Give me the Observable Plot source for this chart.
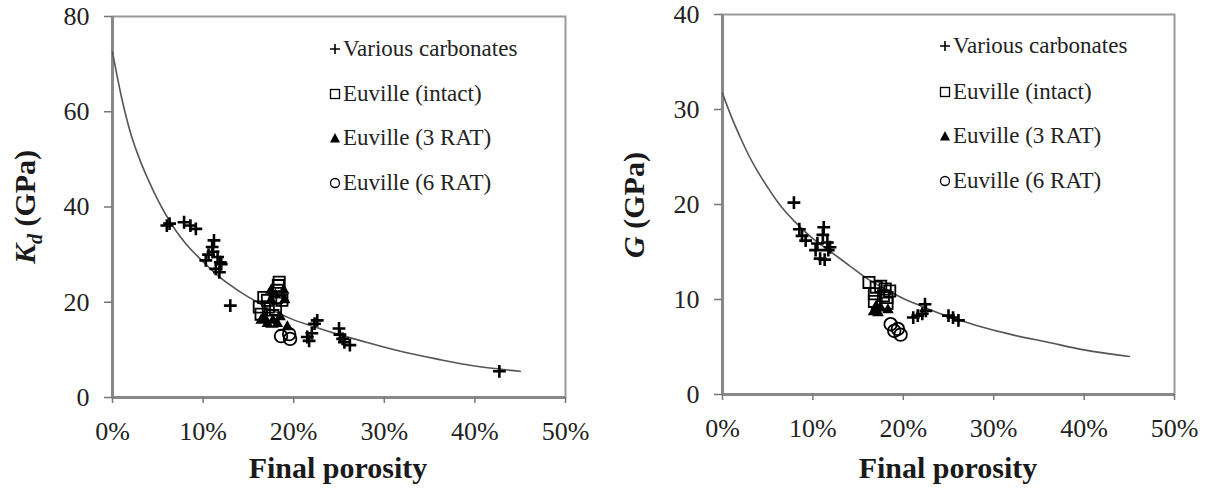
<!DOCTYPE html>
<html>
<head>
<meta charset="utf-8">
<script src="https://cdn.jsdelivr.net/npm/d3@7"></script>
<script src="https://cdn.jsdelivr.net/npm/@observablehq/plot@0.6"></script>
<style>
  body { margin: 0; background: #fff; }
  #wrap { position: relative; width: 1214px; height: 495px; background: #fff; overflow: hidden;
          font-family: "Liberation Serif", "DejaVu Serif", "Noto Serif", Tinos, serif; color: #222; }
  .panel { position: absolute; top: 0; }
  .title { position: absolute; font-weight: bold; font-size: 30px; line-height: 1; white-space: nowrap; color: #1a1a1a; }
  .ytitle { transform: translate(-50%, -50%) rotate(-90deg); }
  .xtitle { transform: translate(-50%, -50%); }
  .leg { position: absolute; font-size: 23px; line-height: 1; white-space: nowrap; color: #222; }
</style>
</head>
<body>
<div id="wrap"></div>
<script>
// ---------- Data (porosity in %, moduli in GPa) ----------
const xTicks = [0, 10, 20, 30, 40, 50];
const kdTicks = [0, 20, 40, 60, 80];
const gTicks = [0, 10, 20, 30, 40];
const seriesNames = ["Various carbonates", "Euville (intact)", "Euville (3 RAT)", "Euville (6 RAT)"];

// Left panel: Kd
const kdCurveP = [0, 1, 2, 3, 4, 5, 6, 7, 8, 10, 12, 14, 16, 18, 20, 22, 25, 28, 32, 36, 40, 45];
const kdCurveV = [72.5, 63, 55.5, 50, 45.5, 41.5, 38, 35, 32.5, 28.5, 25, 22.3, 20, 18, 16.3, 15, 13.2, 11.6, 9.6, 8, 6.6, 5.5];
const kdCarbP = [6.0, 6.3, 7.9, 8.6, 9.2, 10.3, 10.6, 11.0, 11.2, 11.1, 11.6, 11.9, 11.4, 11.8, 12.0, 13.0, 21.5, 21.7, 22.0, 22.3, 22.6, 25.0, 25.1, 25.4, 25.6, 26.2, 42.7];
const kdCarbV = [36.1, 36.5, 36.8, 36.1, 35.4, 28.8, 30.0, 31.6, 33.0, 30.6, 29.5, 28.4, 27.0, 26.3, 28.0, 19.3, 12.7, 11.9, 13.5, 15.5, 16.2, 14.5, 13.2, 12.3, 11.6, 11.0, 5.5];
const kdIntactP = [16.2, 16.4, 16.7, 17.1, 17.2, 17.7, 18.0, 18.1, 18.2, 18.4, 18.7, 17.6, 18.3];
const kdIntactV = [19.0, 17.5, 21.0, 20.4, 19.0, 17.2, 18.5, 21.0, 22.5, 24.2, 20.4, 16.0, 23.5];
const kd3P = [16.4, 16.7, 17.1, 17.5, 17.7, 17.5, 18.0, 18.5, 18.9, 19.0, 19.3, 18.2];
const kd3V = [16.2, 16.9, 15.5, 20.5, 16.2, 22.5, 21.5, 16.9, 22.5, 20.5, 14.8, 15.5];
const kd6P = [18.6, 19.5, 19.6];
const kd6V = [12.9, 13.3, 12.3];

// Right panel: G
const gCurveP = [0, 1, 2, 3, 4, 5, 6, 7, 8, 10, 12, 14, 16, 18, 20, 22, 25, 28, 32, 36, 40, 45];
const gCurveV = [31.7, 29.2, 27, 25, 23.3, 21.8, 20.4, 19.2, 18.2, 16.4, 15, 13.6, 12.2, 11.1, 10.1, 9.3, 8.2, 7.3, 6.3, 5.5, 4.7, 4.0];
const gCarbP = [7.9, 8.5, 8.8, 9.2, 10.3, 10.5, 10.8, 11.1, 11.2, 11.3, 11.6, 11.7, 11.9, 21.1, 21.6, 22.1, 22.4, 22.5, 25.0, 25.5, 26.1];
const gCarbV = [20.2, 17.4, 16.7, 16.2, 15.2, 15.9, 14.3, 16.8, 17.6, 14.2, 16.0, 15.2, 15.5, 8.1, 8.3, 8.5, 9.5, 8.8, 8.3, 8.1, 7.8];
const gIntactP = [16.2, 17.0, 18.0, 18.5, 16.8, 18.2, 16.8, 18.2, 17.5, 17.8];
const gIntactV = [11.8, 11.3, 11.1, 10.9, 10.6, 10.2, 9.8, 9.6, 11.4, 10.4];
const g3P = [16.7, 17.2, 18.3, 17.5, 17.0];
const g3V = [8.7, 8.6, 8.9, 9.1, 9.3];
const g6P = [18.6, 19.0, 19.4, 19.7];
const g6V = [7.4, 6.7, 6.9, 6.3];

// ---------- helpers ----------
const FONT = "'Liberation Serif', 'DejaVu Serif', 'Noto Serif', Tinos, serif";
const zip = (xs, ys) => xs.map((x, i) => ({x, y: ys[i]}));

function panel(o) {
  return Plot.plot({
    width: 607, height: 495,
    marginLeft: o.ml, marginRight: o.mr, marginTop: o.mt, marginBottom: o.mb,
    style: {fontFamily: FONT, fontSize: "26px", color: "#222", background: "transparent", overflow: "visible"},
    x: {domain: [0, 50]},
    y: {domain: [0, o.yMax]},
    marks: [
      Plot.frame({stroke: "#9a9a9a", strokeWidth: 2}),
      Plot.ruleX([0], {stroke: "#888", strokeWidth: 3}),
      Plot.ruleY([0], {stroke: "#888", strokeWidth: 3}),
      Plot.axisX({ticks: xTicks, tickFormat: d => d + "%", tickSize: 6, tickPadding: 18, label: null, stroke: "#777", strokeWidth: 1.5, fontFamily: FONT}),
      Plot.axisY({ticks: o.yTicks, tickSize: 8, tickPadding: 15, label: null, stroke: "#777", strokeWidth: 1.5, fontFamily: FONT}),
      Plot.line(zip(o.curveP, o.curveV), {x: "x", y: "y", stroke: "#555", strokeWidth: 1.6, curve: "monotone-x"}),
      Plot.dot(zip(o.carbP, o.carbV), {x: "x", y: "y", symbol: "plus", r: 4.2, stroke: "#000", strokeWidth: 2.6}),
      Plot.dot(zip(o.intP, o.intV), {x: "x", y: "y", symbol: "square", r: 6.3, stroke: "#000", strokeWidth: 1.8, fill: "none"}),
      Plot.dot(zip(o.r3P, o.r3V), {x: "x", y: "y", symbol: "triangle", r: 4.3, fill: "#000", stroke: "none"}),
      Plot.dot(zip(o.r6P, o.r6V), {x: "x", y: "y", symbol: "circle", r: 6.3, stroke: "#000", strokeWidth: 1.8, fill: "none"})
    ]
  });
}

const wrap = document.getElementById("wrap");

function addPanel(left, plot) {
  const d = document.createElement("div");
  d.className = "panel";
  d.style.left = left + "px";
  d.appendChild(plot);
  wrap.appendChild(d);
}

addPanel(0, panel({ml: 112, mr: 42, mt: 16, mb: 98, yMax: 80, yTicks: kdTicks,
  curveP: kdCurveP, curveV: kdCurveV, carbP: kdCarbP, carbV: kdCarbV,
  intP: kdIntactP, intV: kdIntactV, r3P: kd3P, r3V: kd3V, r6P: kd6P, r6V: kd6V}));
addPanel(607, panel({ml: 115, mr: 40, mt: 14, mb: 101, yMax: 40, yTicks: gTicks,
  curveP: gCurveP, curveV: gCurveV, carbP: gCarbP, carbV: gCarbV,
  intP: gIntactP, intV: gIntactV, r3P: g3P, r3V: g3V, r6P: g6P, r6V: g6V}));

// ---------- axis titles ----------
function title(html, x, y, cls) {
  const d = document.createElement("div");
  d.className = "title " + cls;
  d.style.left = x + "px";
  d.style.top = y + "px";
  d.innerHTML = html;
  wrap.appendChild(d);
}
title("Final porosity", 338, 468, "xtitle");
title("Final porosity", 948, 468, "xtitle");
title("<i>K<sub style='font-size:20px'>d</sub></i> (GPa)", 27, 207, "ytitle");
title("<i>G</i> (GPa)", 634, 205, "ytitle");

// ---------- legends ----------
const legSymbols = [
  `<path d="M-5,0H5M0,-5V5" stroke="#000" stroke-width="1.6"/>`,
  `<rect x="-4.5" y="-4.5" width="9" height="9" stroke="#000" stroke-width="1.3" fill="none"/>`,
  `<path d="M0,-5L5,4.5H-5Z" fill="#000"/>`,
  `<circle r="4.5" stroke="#000" stroke-width="1.3" fill="none"/>`
];
function legend(mx, tx, ys) {
  seriesNames.forEach((name, i) => {
    const s = document.createElementNS("http://www.w3.org/2000/svg", "svg");
    s.setAttribute("width", 14); s.setAttribute("height", 14);
    s.setAttribute("viewBox", "-7 -7 14 14");
    s.style.position = "absolute";
    s.style.left = (mx - 7) + "px";
    s.style.top = (ys[i] - 7) + "px";
    s.innerHTML = legSymbols[i];
    wrap.appendChild(s);
    const t = document.createElement("div");
    t.className = "leg";
    t.style.left = tx + "px";
    t.style.top = (ys[i] - 12) + "px";
    t.textContent = name;
    wrap.appendChild(t);
  });
}
legend(335, 343, [49, 94, 138, 183]);
legend(945, 953, [46, 92, 136, 181]);
</script>
</body>
</html>
